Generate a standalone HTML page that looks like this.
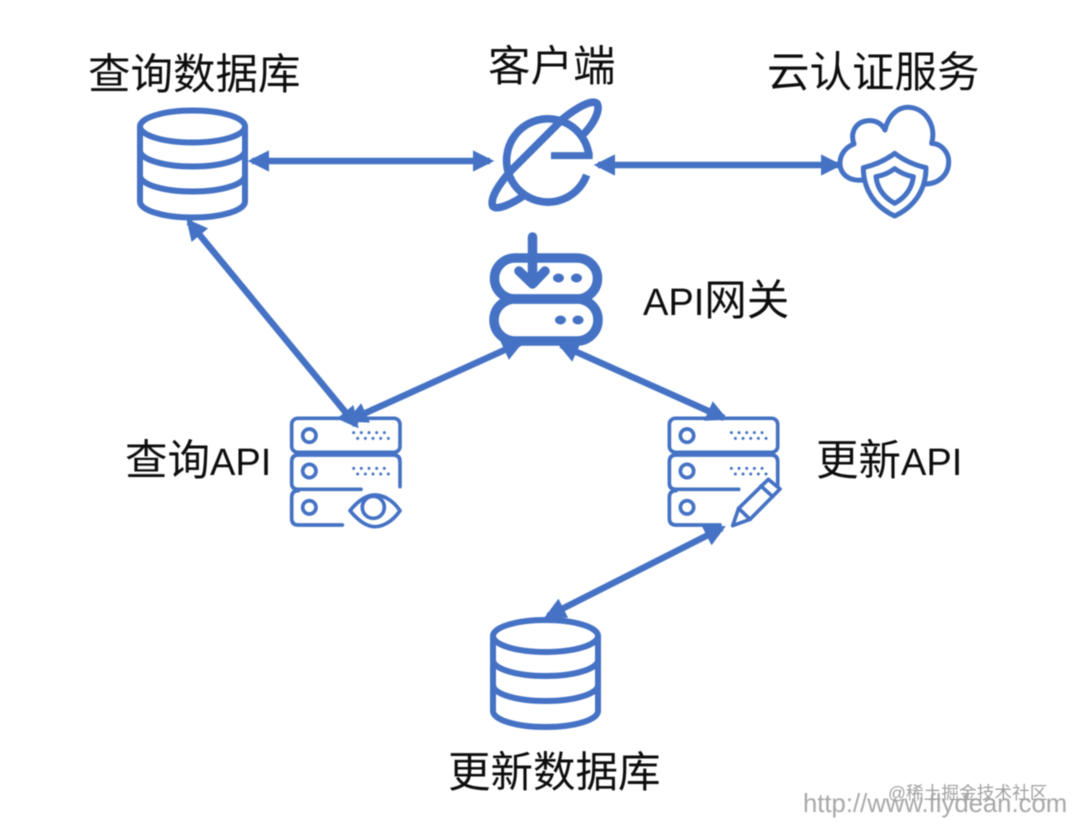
<!DOCTYPE html>
<html><head><meta charset="utf-8">
<style>
html,body{margin:0;padding:0;background:#fff;width:1072px;height:826px;overflow:hidden}
svg{display:block}
.t{font-family:"Liberation Sans","Noto Sans CJK SC",sans-serif;font-size:42.500px;fill:#111}
.i{fill:none;stroke:#4472C4;stroke-linecap:round;stroke-linejoin:round}
</style></head><body>
<svg width="1072" height="826" viewBox="0 0 1072 826" xmlns="http://www.w3.org/2000/svg">
<defs>
<filter id="b" x="-5%" y="-5%" width="110%" height="110%"><feGaussianBlur stdDeviation="0.45"/></filter>
<filter id="b2" x="-5%" y="-20%" width="110%" height="140%"><feGaussianBlur stdDeviation="0.6"/></filter>
<marker id="h" viewBox="0 0 10 10" refX="8" refY="5" markerWidth="3.300" markerHeight="3.300" orient="auto-start-reverse" markerUnits="strokeWidth"><path d="M0 0L10 5L0 10Z" fill="#4472C4"/></marker>
<g id="db">
<ellipse cx="54.500" cy="19" rx="52.500" ry="16"/>
<path d="M2 19V94C2 103 26 110 54.500 110S107 103 107 94V19"/>
<path d="M2 43C2 52 26 59 54.500 59S107 52 107 43"/>
<path d="M2 68C2 77 26 84 54.500 84S107 77 107 68"/>
</g>
<g id="srv">
<rect x="35" y="55" width="325" height="102" rx="18"/>
<path d="M360 260V185Q360 165 340 165H55Q35 165 35 185V250Q35 268 55 268H243"/>
<path d="M55 272Q35 272 35 292V355Q35 375 55 375H187"/>
<circle cx="88" cy="107" r="20"/><circle cx="88" cy="213" r="20"/><circle cx="88" cy="322" r="20"/>
<g fill="#4472C4" stroke="none">
<circle cx="221" cy="98" r="4.500"/><circle cx="244" cy="98" r="4.500"/><circle cx="267" cy="98" r="4.500"/><circle cx="290" cy="98" r="4.500"/><circle cx="313" cy="98" r="4.500"/>
<circle cx="233" cy="115" r="4.500"/><circle cx="256" cy="115" r="4.500"/><circle cx="279" cy="115" r="4.500"/><circle cx="302" cy="115" r="4.500"/><circle cx="325" cy="115" r="4.500"/>
<circle cx="221" cy="205" r="4.500"/><circle cx="244" cy="205" r="4.500"/><circle cx="267" cy="205" r="4.500"/><circle cx="290" cy="205" r="4.500"/><circle cx="313" cy="205" r="4.500"/>
<circle cx="233" cy="222" r="4.500"/><circle cx="256" cy="222" r="4.500"/><circle cx="279" cy="222" r="4.500"/><circle cx="302" cy="222" r="4.500"/><circle cx="325" cy="222" r="4.500"/>
</g>
</g>
</defs>
<g filter="url(#b)">
<text class="t" x="88" y="89">查询数据库</text>
<text class="t" x="488" y="81">客户端</text>
<text class="t" x="767" y="87">云认证服务</text>
<text class="t" x="643" y="315"><tspan font-size="38">API</tspan><tspan>网关</tspan></text>
<text class="t" x="125" y="475">查询<tspan font-size="38">API</tspan></text>
<text class="t" x="816" y="475">更新<tspan font-size="38">API</tspan></text>
<text class="t" x="448" y="787">更新数据库</text>

<use href="#db" x="138" y="107.500" class="i" stroke-width="6"/>
<use href="#db" x="491" y="617" class="i" stroke-width="6"/>

<g transform="translate(470 90) scale(.33333)" class="i">
<path stroke-width="23" stroke-linecap="butt" d="M357 197A124 125 0 1 0 350 255"/>
<path stroke-width="21" stroke-linecap="butt" d="M243 197H368" />
<path stroke-width="23" d="M345 128C375 95 390 60 382 42C372 28 335 42 280 85L120 245C85 285 60 325 68 348C78 362 120 345 160 318"/>
</g>

<g class="i" stroke-width="9.500">
<path d="M515 258H577A20.500 20.500 0 0 1 577 299H515A20.500 20.500 0 0 1 515 258Z"/>
<path d="M515 299H577A21 21 0 0 1 577 341H515A21 21 0 0 1 515 299Z"/>
<path d="M532.500 237V283M519 271L532.500 284L545 271"/>
</g>
<g fill="#4472C4">
<ellipse cx="558.500" cy="278" rx="5.500" ry="4.500"/><ellipse cx="576.500" cy="278" rx="5.500" ry="4.500"/>
<ellipse cx="560.500" cy="320" rx="5.500" ry="4.500"/><ellipse cx="578" cy="320" rx="5.500" ry="4.500"/>
</g>

<g transform="translate(820 90) scale(.33333)" class="i" stroke-width="15">
<path d="M128 270C85 275 58 250 60 215C62 190 80 170 102 162C90 130 105 95 145 92C165 90 185 100 195 120C205 75 235 50 268 52C315 55 350 105 335 160C365 160 388 190 386 218C385 255 355 282 315 282"/>
<path d="M224 190C195 212 165 225 130 233C130 300 165 350 224 378C283 350 318 300 318 233C283 225 253 212 224 190Z"/>
<path d="M224 236C208 248 190 256 168 260C172 295 192 322 224 340C256 322 276 295 280 260C258 256 240 248 224 236Z"/>
</g>

<g transform="translate(280 400) scale(.33333)" class="i" stroke-width="11">
<use href="#srv"/>
<path d="M210 332C240 295 265 285 285 285C305 285 335 295 360 332C335 368 305 380 285 380C265 380 240 368 210 332Z"/>
<circle cx="280" cy="322" r="33"/>
</g>

<g transform="translate(657.700 400) scale(.33333)" class="i" stroke-width="11">
<use href="#srv"/>
</g>
<g transform="translate(660 400) scale(.33333)" class="i" stroke-width="11">
<path d="M218 377L236 325L325 238L360 267L270 358Z"/>
<path d="M236 325L270 358M303 258L338 290"/>
</g>

<g stroke="#4472C4" stroke-width="6.500" fill="none">
<line x1="252" y1="161" x2="490" y2="161" marker-start="url(#h)" marker-end="url(#h)"/>
<line x1="598" y1="165" x2="838" y2="165" marker-start="url(#h)" marker-end="url(#h)"/>
<line x1="189" y1="222" x2="356" y2="425" marker-start="url(#h)" marker-end="url(#h)"/>
<line x1="350" y1="420" x2="520" y2="343" marker-start="url(#h)" marker-end="url(#h)"/>
<line x1="561" y1="345" x2="724" y2="418" marker-start="url(#h)" marker-end="url(#h)"/>
<line x1="722" y1="528" x2="548" y2="616" marker-start="url(#h)" marker-end="url(#h)"/>
</g>
</g>
<g filter="url(#b2)">
<text x="803" y="812" font-family="Liberation Sans, sans-serif" font-size="25.700" fill="#a8a8a8">http://www.flydean.com</text>
<text x="888" y="799" font-family="Liberation Sans, Noto Sans CJK SC, sans-serif" font-size="17.700" fill="#a0a0a0">@稀土掘金技术社区</text>
</g>
</svg>
</body></html>
